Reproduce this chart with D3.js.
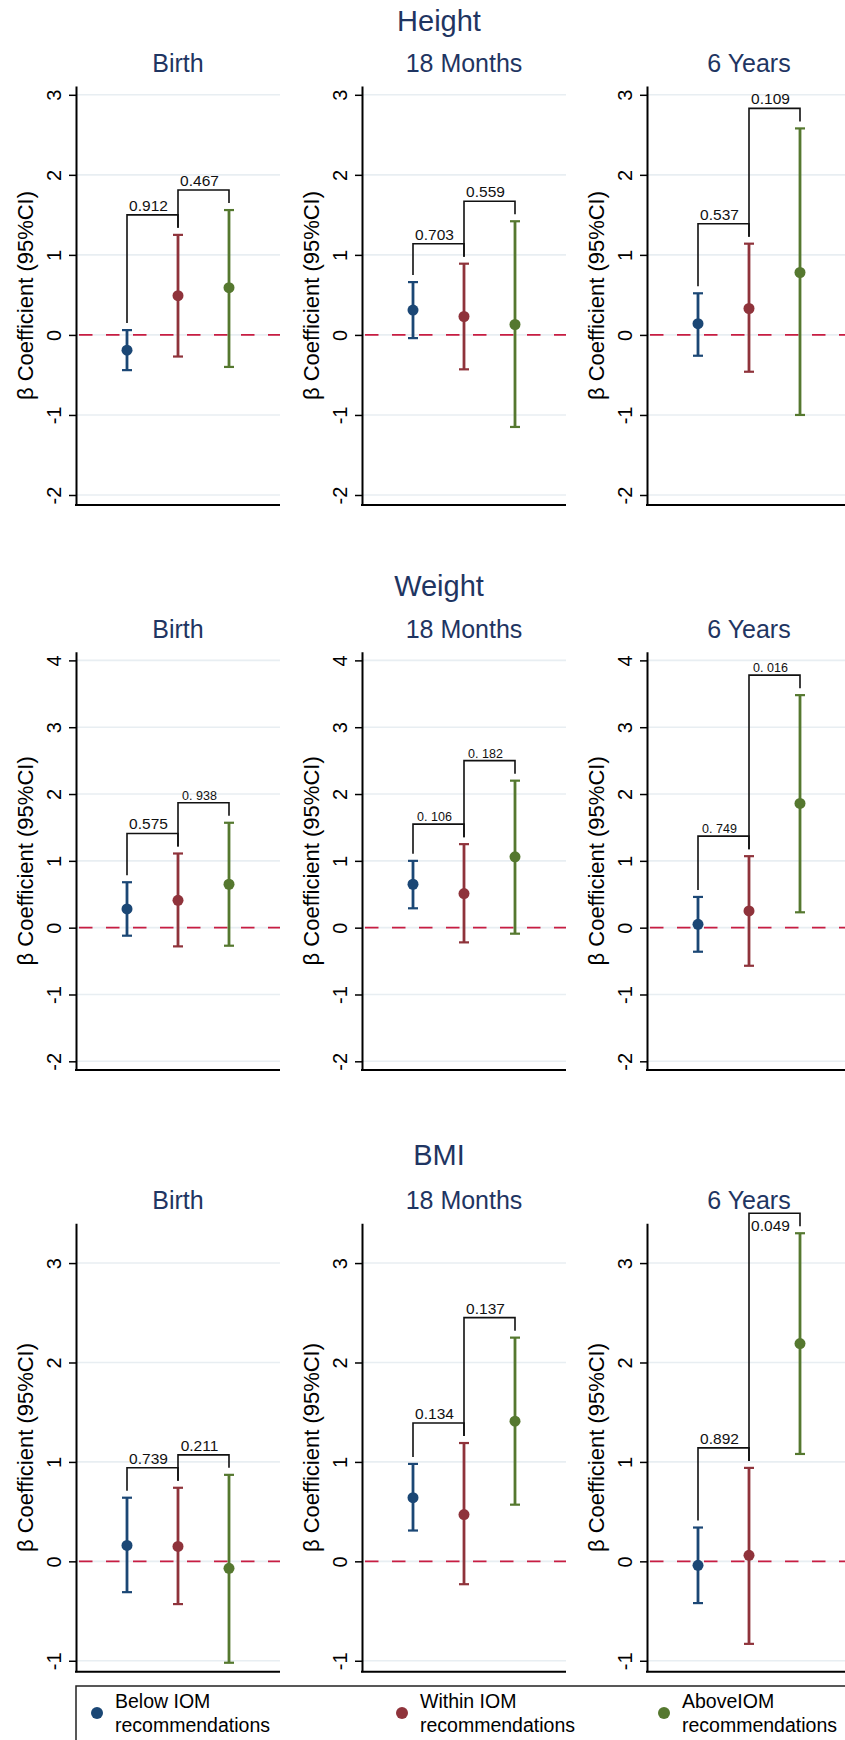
<!DOCTYPE html>
<html>
<head>
<meta charset="utf-8">
<script src="https://cdn.jsdelivr.net/npm/d3@7"></script>
<style>
  body { margin: 0; background: #fff; }
  svg { display: block; font-family: "Liberation Sans", Arial, sans-serif; }
</style>
</head>
<body>
<svg id="chart" width="845" height="1740"></svg>
<script>
const outcomes = ["Height", "Weight", "BMI"];
const timepoints = ["Birth", "18 Months", "6 Years"];
const groups = ["Below IOM", "Within IOM", "AboveIOM"];
const legendLines = [["Below IOM", "recommendations"], ["Within IOM", "recommendations"], ["AboveIOM", "recommendations"]];
const yTicks = [[-2, -1, 0, 1, 2, 3], [-2, -1, 0, 1, 2, 3, 4], [-1, 0, 1, 2, 3]];

// one row per timepoint, one column per group
const heightBeta = [[-0.19, 0.49, 0.59], [0.31, 0.23, 0.13], [0.14, 0.33, 0.78]];
const heightLow  = [[-0.44, -0.27, -0.40], [-0.04, -0.43, -1.15], [-0.26, -0.46, -1.00]];
const heightHigh = [[0.06, 1.25, 1.56], [0.66, 0.89, 1.42], [0.52, 1.14, 2.58]];
const heightP    = [["0.912", "0.467"], ["0.703", "0.559"], ["0.537", "0.109"]];

const weightBeta = [[0.28, 0.41, 0.65], [0.65, 0.51, 1.06], [0.05, 0.25, 1.86]];
const weightLow  = [[-0.12, -0.28, -0.27], [0.29, -0.22, -0.09], [-0.36, -0.57, 0.23]];
const weightHigh = [[0.68, 1.11, 1.57], [1.00, 1.25, 2.20], [0.46, 1.07, 3.48]];
const weightP    = [["0.575", "0. 938"], ["0. 106", "0. 182"], ["0. 749", "0. 016"]];

const bmiBeta = [[0.16, 0.15, -0.07], [0.64, 0.47, 1.41], [-0.04, 0.06, 2.19]];
const bmiLow  = [[-0.31, -0.43, -1.02], [0.31, -0.23, 0.57], [-0.42, -0.83, 1.08]];
const bmiHigh = [[0.64, 0.74, 0.87], [0.98, 1.19, 2.25], [0.34, 0.94, 3.30]];
const bmiP    = [["0.739", "0.211"], ["0.134", "0.137"], ["0.892", "0.049"]];

const beta = [heightBeta, weightBeta, bmiBeta];
const low = [heightLow, weightLow, bmiLow];
const high = [heightHigh, weightHigh, bmiHigh];
const pvals = [heightP, weightP, bmiP];

const colors = ["#1b4775", "#8f333b", "#55782f"];
const titleColor = "#1f3562";

// layout of the three rows (the axis domain is a bit wider than the ticks)
const rows = [
  { title: 31, top: 86, bottom: 505, domain: [-2.125, 3.11] },
  { title: 596, top: 651.7, bottom: 1070, domain: [-2.13, 4.13] },
  { title: 1165, top: 1223.3, bottom: 1671.7, domain: [-1.11, 3.40] }
];
const panelX = [76, 362, 647],
  panelW = 204;

// the p label of BMI / 6 Years second bracket sits under its line
const labelBelow = (r, t, k) => r === 2 && t === 2 && k === 1;

const svg = d3.select("#chart");

rows.forEach((row, r) => {

  svg.append("text")
    .attr("x", 439)
    .attr("y", row.title)
    .attr("text-anchor", "middle")
    .attr("font-size", 29)
    .attr("fill", titleColor)
    .text(outcomes[r]);

  const y = d3.scaleLinear().domain(row.domain).range([row.bottom, row.top]);

  timepoints.forEach((tp, t) => {
    const x0 = panelX[t];
    const x = d3.scalePoint().domain(groups).range([x0, x0 + panelW]).padding(1);
    const g = svg.append("g");

    g.append("text")
      .attr("x", x(groups[1]))
      .attr("y", row.top - 14)
      .attr("text-anchor", "middle")
      .attr("font-size", 25)
      .attr("fill", titleColor)
      .text(tp);

    // grid
    g.selectAll(".grid")
      .data(yTicks[r])
      .join("line")
      .attr("x1", x0).attr("x2", x0 + panelW)
      .attr("y1", d => y(d)).attr("y2", d => y(d))
      .attr("stroke", "#e8eef2")
      .attr("stroke-width", 1.6);

    // reference line at zero
    g.append("line")
      .attr("x1", x0 + 3).attr("x2", x0 + panelW)
      .attr("y1", y(0)).attr("y2", y(0))
      .attr("stroke", "#c81d42")
      .attr("stroke-width", 1.6)
      .attr("stroke-dasharray", "13.5,13.5");

    // brackets with p values
    [[0, 1], [1, 2]].forEach(([a, b], k) => {
      const xa = x(groups[a]), xb = x(groups[b]);
      const ya = y(high[r][t][a]), yb = y(high[r][t][b]);
      const level = Math.min(ya, yb) - 20;
      g.append("path")
        .attr("d", `M${xa},${ya - 7}V${level}H${xb}V${yb - 7}`)
        .attr("fill", "none")
        .attr("stroke", "#111")
        .attr("stroke-width", 1.6);

      const label = pvals[r][t][k];
      // the "0. xxx" labels are printed in a smaller font
      const small = label.indexOf(" ") > -1;
      g.append("text")
        .attr("x", (xa + xb) / 2 - 4)
        .attr("y", labelBelow(r, t, k) ? level + 18 : level - (small ? 3 : 4))
        .attr("text-anchor", "middle")
        .attr("font-size", small ? 12.5 : 15.5)
        .attr("fill", "#111")
        .text(label);
    });

    // error bars
    const bars = g.selectAll(".bar")
      .data(groups)
      .join("g")
      .attr("stroke", (d, i) => colors[i]);

    bars.append("line")
      .attr("x1", d => x(d)).attr("x2", d => x(d))
      .attr("y1", (d, i) => y(low[r][t][i]))
      .attr("y2", (d, i) => y(high[r][t][i]))
      .attr("stroke-width", 2.8);

    bars.selectAll(".cap")
      .data((d, i) => [low[r][t][i], high[r][t][i]].map(v => ({ g: d, v: v })))
      .join("line")
      .attr("x1", d => x(d.g) - 5).attr("x2", d => x(d.g) + 5)
      .attr("y1", d => y(d.v)).attr("y2", d => y(d.v))
      .attr("stroke-width", 2.2);

    g.selectAll(".dot")
      .data(groups)
      .join("circle")
      .attr("cx", d => x(d))
      .attr("cy", (d, i) => y(beta[r][t][i]))
      .attr("r", 5.5)
      .attr("fill", (d, i) => colors[i]);

    // axes (plain hyphen minus like the original, not d3's unicode minus)
    const axis = g.append("g")
      .attr("transform", `translate(${x0},0)`)
      .call(d3.axisLeft(y).tickValues(yTicks[r]).tickSize(7).tickSizeOuter(0).tickFormat(d => String(d)));
    axis.select(".domain").attr("stroke", "#000").attr("stroke-width", 2);
    axis.selectAll(".tick line").attr("stroke", "#000").attr("stroke-width", 1.5);
    axis.selectAll(".tick text")
      .attr("x", null)
      .attr("dy", null)
      .attr("text-anchor", "middle")
      .attr("transform", "translate(-15,0) rotate(-90)")
      .attr("font-size", 20)
      .attr("font-family", null)
      .attr("fill", "#000");

    g.append("line")
      .attr("x1", x0 - 1).attr("x2", x0 + panelW)
      .attr("y1", row.bottom).attr("y2", row.bottom)
      .attr("stroke", "#000")
      .attr("stroke-width", 2);

    g.append("text")
      .attr("transform", `translate(${x0 - 43},${(row.top + row.bottom) / 2}) rotate(-90)`)
      .attr("text-anchor", "middle")
      .attr("font-size", 22)
      .attr("fill", "#000")
      .text("β Coefficient (95%CI)");
  });
});

// legend
const legend = svg.append("g");
legend.append("rect")
  .attr("x", 76).attr("y", 1686)
  .attr("width", 800).attr("height", 100)
  .attr("fill", "none")
  .attr("stroke", "#222")
  .attr("stroke-width", 1.5);

const legendX = [97, 402, 664];
const items = legend.selectAll(".item")
  .data(legendLines)
  .join("g")
  .attr("transform", (d, i) => `translate(${legendX[i]},0)`);

items.append("circle")
  .attr("cy", 1713)
  .attr("r", 6)
  .attr("fill", (d, i) => colors[i]);

items.append("text")
  .attr("x", 18)
  .attr("font-size", 19.5)
  .attr("fill", "#000")
  .selectAll("tspan")
  .data(d => d)
  .join("tspan")
  .attr("x", 18)
  .attr("y", (d, i) => 1708 + i * 23.5)
  .text(d => d);
</script>
</body>
</html>
